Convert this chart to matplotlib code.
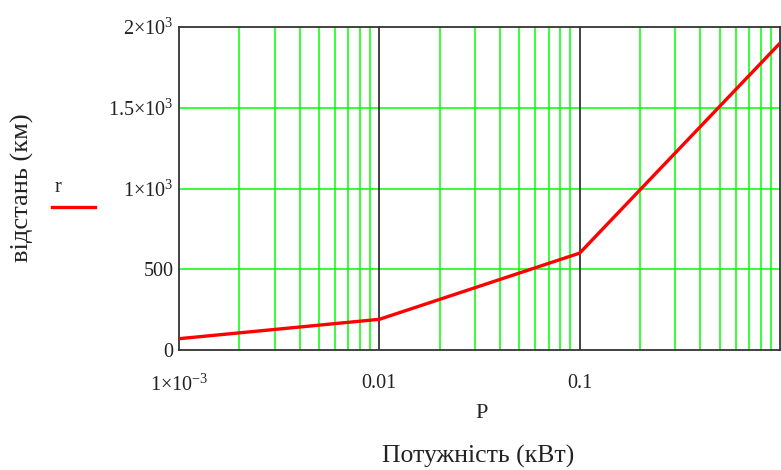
import matplotlib
matplotlib.use("Agg")
import matplotlib.pyplot as plt
from matplotlib.lines import Line2D
import numpy as np

# Data
P = [0.001, 0.01, 0.1, 1.0]
r = [70, 190, 600, 1900]
x_ticks = [0.001, 0.01, 0.1, 1.0]
x_tick_labels = [r"$1{\times}10^{-3}$", "0.01", "0.1", ""]
y_ticks = [0, 500, 1000, 1500, 2000]
y_tick_labels = ["0", "500", r"$1{\times}10^{3}$", r"$1.5{\times}10^{3}$", r"$2{\times}10^{3}$"]

plt.rcParams['font.family'] = ['Liberation Serif', 'DejaVu Serif']
plt.rcParams['mathtext.fontset'] = 'custom'
plt.rcParams['mathtext.rm'] = 'Liberation Serif'
plt.rcParams['mathtext.it'] = 'Liberation Serif:italic'
plt.rcParams['mathtext.default'] = 'rm'

fig = plt.figure(figsize=(7.81, 4.70), dpi=100)
W, H = 781, 470
ax = fig.add_axes([179 / W, 120 / H, 601 / W, 323 / H])

ax.set_xscale('log')
ax.set_xlim(0.001, 1.0)
ax.set_ylim(0, 2000)

# grid: minor green verticals, major black verticals at decades, green horizontals
for dec in [0.001, 0.01, 0.1]:
    for m in range(2, 10):
        ax.axvline(dec * m, color='#00ff00', lw=1.1, zorder=1)
for dec in [0.01, 0.1]:
    ax.axvline(dec, color='#222222', lw=1.2, zorder=1.5)
for yv in [500, 1000, 1500]:
    ax.axhline(yv, color='#00ff00', lw=1.1, zorder=1)

ax.plot(P, r, color='#ff0000', lw=2.4, zorder=3, solid_capstyle='butt')

ax.set_xticks(x_ticks)
ax.set_xticklabels(x_tick_labels)
ax.xaxis.set_minor_locator(matplotlib.ticker.NullLocator())
ax.set_yticks(y_ticks)
ax.set_yticklabels(y_tick_labels)
ax.tick_params(axis='both', length=0, labelsize=14.5, colors='#222222')
ax.tick_params(axis='x', pad=17.5)
ax.tick_params(axis='y', pad=4)

for s in ax.spines.values():
    s.set_color('#333333')
    s.set_linewidth(1.3)

# y label
fig.text(22 / W, 1 - 188 / H, "відстань (км)", rotation=90, ha='center', va='center', fontsize=19, color='#222222')

# legend
fig.text(58 / W, 1 - 188 / H, "r", ha='center', va='center', fontsize=14.5, color='#222222')
fig.add_artist(Line2D([52 / W, 95 / W], [1 - 207 / H, 1 - 207 / H], color='#ff0000', lw=2.4,
                      transform=fig.transFigure))

# x labels
fig.text(482 / W, 1 - 414 / H, "P", ha='center', va='center', fontsize=16, color='#222222')
fig.text(478 / W, 1 - 456 / H, "Потужність (кВт)", ha='center', va='center', fontsize=18.5, color='#222222')

fig.savefig("out.png", dpi=100)
